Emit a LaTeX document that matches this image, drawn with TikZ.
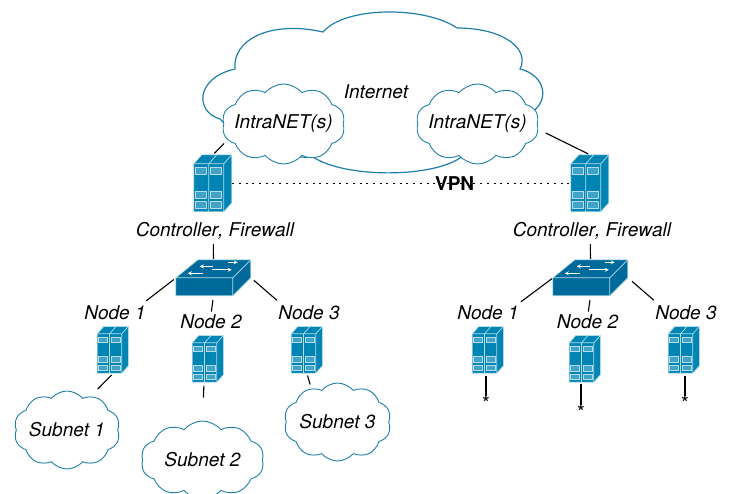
\documentclass[tikz,border=0pt]{standalone}
\usepackage{fontspec}
\setmainfont[Kerning=Off]{TeX Gyre Heros}
\usetikzlibrary{shapes,arrows,calc}
\definecolor{netblue}{HTML}{1F7FAB}
\definecolor{boxblue}{HTML}{0084B4}
\definecolor{hubblue}{HTML}{006A9B}
\definecolor{edgeblue}{HTML}{B5DCEA}

% Icons are drawn in px of the big size, origin at the top left of the node
\newcommand{\servericon}[2]{%
    \begin{scope}[shift={(#1.north west)}, x=#2*1pt, y=-#2*1pt]
        \draw [edgeblue, fill=boxblue, line width=0.7pt, line join=round]
            (0,9) -- (8,0) -- (38,0) -- (38,48) -- (30,57) -- (0,57) -- cycle;
        \draw [edgeblue, line width=0.7pt]
            (0,9) -- (30,9) -- (38,0) (30,9) -- (30,57)
            (15,57) -- (15,9) -- (23,0);
        \foreach \winx in {2,17} {
            \foreach \winy in {13,37,47} {
                \draw [edgeblue, fill=boxblue!75!white, line width=0.8pt]
                    (\winx,\winy) rectangle ++(11,6.5);
            }
        }
    \end{scope}%
}
\newcommand{\switchicon}[1]{%
    \begin{scope}[shift={(#1.north west)}, x=1pt, y=-1pt]
        \draw [edgeblue, fill=hubblue, line width=0.7pt, line join=round]
            (0,18) -- (22,0) -- (75,0) -- (75,18) -- (57,36) -- (0,36) -- cycle;
        \draw [edgeblue, line width=0.7pt]
            (0,18) -- (57,18) -- (75,0) (57,18) -- (57,36);
        \draw [white, line width=0.8pt, ->, >=stealth] (52,2.5) -- (62,2.5);
        \draw [white, line width=0.8pt, ->, >=stealth] (37,6.5) -- (24,6.5);
        \draw [white, line width=0.8pt, ->, >=stealth] (36,10) -- (56,10);
        \draw [white, line width=0.8pt, ->, >=stealth] (27,13.5) -- (12,13.5);
    \end{scope}%
}

\begin{document}
\begin{tikzpicture}[
            x=1pt, y=-1pt, node distance=0pt,
            textlabel/.style={%
                inner sep=0pt, font=\fontsize{19}{22}\selectfont\itshape%
            },
            netcloud/.style={%
                cloud, cloud puffs=10, cloud puff arc=100, aspect=1.6,%
                draw=netblue, fill=white, line width=0.9pt, inner sep=0pt,%
                font=\fontsize{19}{22}\selectfont\itshape%
            },
            server/.style={%
                rectangle, inner sep=0pt, minimum width=#1*38pt, minimum height=#1*57pt%
            },
            switchbox/.style={%
                rectangle, inner sep=0pt, minimum width=75pt, minimum height=36pt%
            },
            starlabel/.style={inner sep=0pt, font=\fontsize{20}{20}\selectfont},
            link/.style={line width=1.1pt, black}
        ]
        \useasboundingbox (0,0) rectangle (730,494);

        % Internet cloud
        \draw [netblue, fill=white, line width=1.2pt]
            (220,119) .. controls (195,112) and (195,78) .. (235,69)
            .. controls (232,40) and (270,20) .. (323,32)
            .. controls (345,6) and (425,6) .. (457,28)
            .. controls (505,28) and (530,50) .. (520,69)
            .. controls (545,75) and (550,100) .. (532,112)
            .. controls (532,130) and (500,150) .. (460,158)
            .. controls (430,178) and (345,178) .. (313,157)
            .. controls (270,160) and (230,130) .. (220,119) -- cycle;
        \node (internet) [textlabel] at (376,92) {Internet};

        % Define nodes
        \node (intraL) [netcloud, minimum width=123pt, minimum height=80pt] at (283.5,124) {\makebox[0pt]{IntraNET(s)}};
        \node (intraR) [netcloud, right of=intraL, xshift=194pt, minimum width=123pt, minimum height=80pt] {\makebox[0pt]{IntraNET(s)}};

        \node (ctrlL) [server=1] at (213,183.5) {};
        \node (ctrlR) [server=1, right of=ctrlL, xshift=377pt] {};
        \node (ctrlLabelL) [textlabel, below of=ctrlL, xshift=2pt, yshift=-47.5pt] {Controller, Firewall};
        \node (ctrlLabelR) [textlabel, below of=ctrlR, xshift=2pt, yshift=-47.5pt] {Controller, Firewall};

        \node (switchL) [switchbox, below of=ctrlL, xshift=0.5pt, yshift=-94.5pt] {};
        \node (switchR) [switchbox, below of=ctrlR, xshift=0.5pt, yshift=-94.5pt] {};

        \node (nodeL1) [server=0.82, below of=switchL, xshift=-100.5pt, yshift=-72pt] {};
        \node (nodeL2) [server=0.82, below of=switchL, xshift=-5.5pt, yshift=-81pt] {};
        \node (nodeL3) [server=0.82, below of=switchL, xshift=93.5pt, yshift=-72pt] {};
        \node (nodeR1) [server=0.82, below of=switchR, xshift=-102.5pt, yshift=-72pt] {};
        \node (nodeR2) [server=0.82, below of=switchR, xshift=-5.5pt, yshift=-81pt] {};
        \node (nodeR3) [server=0.82, below of=switchR, xshift=93.5pt, yshift=-72pt] {};

        \servericon{ctrlL}{1}
        \servericon{ctrlR}{1}
        \switchicon{switchL}
        \switchicon{switchR}
        \foreach \nodename in {nodeL1,nodeL2,nodeL3,nodeR1,nodeR2,nodeR3} {
            \servericon{\nodename}{0.82}
        }

        \node (labelL1) [textlabel, above of=nodeL1, xshift=2pt, yshift=37pt] {Node 1};
        \node (labelL2) [textlabel, above of=nodeL2, xshift=3pt, yshift=37pt] {Node 2};
        \node (labelL3) [textlabel, above of=nodeL3, xshift=2pt, yshift=37pt] {Node 3};
        \node (labelR1) [textlabel, above of=nodeR1, yshift=37pt] {Node 1};
        \node (labelR2) [textlabel, above of=nodeR2, xshift=2.5pt, yshift=37pt] {Node 2};
        \node (labelR3) [textlabel, above of=nodeR3, xshift=2pt, yshift=37pt] {Node 3};

        \node (subnet1) [netcloud, minimum width=106pt, minimum height=78pt] at (67,430) {\makebox[0pt]{Subnet 1}};
        \node (subnet2) [netcloud, minimum width=123pt, minimum height=78pt] at (202.5,460) {\makebox[0pt]{Subnet 2}};
        \node (subnet3) [netcloud, minimum width=107pt, minimum height=78pt] at (337.5,422) {\makebox[0pt]{Subnet 3}};

        \node (starR1) [starlabel, below of=nodeR1, xshift=-2pt, yshift=-53pt] {*};
        \node (starR2) [starlabel, below of=nodeR2, xshift=-4pt, yshift=-53pt] {*};
        \node (starR3) [starlabel, below of=nodeR3, xshift=1pt, yshift=-53pt] {*};

        \draw [link, shorten <=2pt, shorten >=9pt] (ctrlL.north) -- ([xshift=7pt,yshift=-13pt]intraL.west);
        \draw [link, shorten <=2pt, shorten >=9pt] (ctrlR.north) -- ([yshift=-5pt]intraR.east);
        \draw [black, line width=1.3pt, dash pattern=on 2pt off 4.7pt]
            (ctrlL.east) -- node[pos=0.657, font=\fontsize{19}{22}\selectfont\bfseries, inner sep=0pt] (vpn) {VPN} (ctrlR.west);

        \draw [link, shorten <=32pt, shorten >=1pt] (ctrlL.south) -- (switchL.north);
        \draw [link, shorten <=32pt, shorten >=1pt] (ctrlR.south) -- (switchR.north);

        \draw [link, shorten <=2.5pt, shorten >=42pt] (switchL.west) -- (nodeL1.north);
        \draw [link, shorten <=4pt, shorten >=24pt] (switchL.south) -- (nodeL2.north);
        \draw [link, shorten <=3.5pt, shorten >=40pt] (switchL.east) -- (nodeL3.north);
        \draw [link, shorten <=1pt, shorten >=41pt] (switchR.west) -- (nodeR1.north);
        \draw [link, shorten <=4pt, shorten >=24pt] (switchR.south) -- (nodeR2.north);
        \draw [link, shorten <=5pt, shorten >=40pt] (switchR.east) -- (nodeR3.north);

        \draw [link, shorten <=2pt, shorten >=10pt] (nodeL1.south) -- (subnet1.55);
        \draw [link, shorten <=3pt, shorten >=23pt] ([xshift=-4pt]nodeL2.south) -- (subnet2.north);
        \draw [link, shorten <=2pt, shorten >=4pt] (nodeL3.south) -- (subnet3.128);

        \draw [link, shorten <=2pt] (starR1.north |- nodeR1.south) -- (starR1.north);
        \draw [link, shorten <=1pt] (starR2.north |- nodeR2.south) -- (starR2.north);
        \draw [link, shorten <=2pt] (starR3.north |- nodeR3.south) -- (starR3.north);

        \end{tikzpicture}
\end{document}
